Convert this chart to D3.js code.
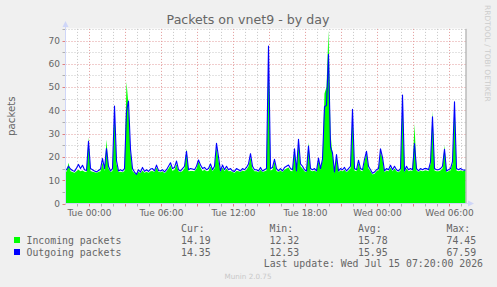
<!DOCTYPE html>
<html>
<head>
<meta charset="utf-8">
<script src="https://cdn.jsdelivr.net/npm/d3@7"></script>
<style>
  html, body { margin: 0; padding: 0; background: #f0f0f0; }
  svg { display: block; }
</style>
</head>
<body>
<div id="chart"></div>
<script>
(function() {

  // samples are 10 minutes apart, starting Mon 22:00 (graph ends Wed 07:20)
  var startTime = new Date(2026, 6, 13, 22, 0);
  var endTime = new Date(2026, 6, 15, 7, 20);
  var stepMinutes = 10;

  var incoming = [
    13.6, 17.5, 13.8, 13.5, 13.2, 13.8, 14.5, 13.8, 14.2, 13.6,
    13.5, 28.5, 14, 13.6, 13.4, 13.2, 13.5, 13.8, 17.5, 14,
    27.5, 15, 13.5, 14, 40, 17, 13.5, 13.6, 13.4, 14,
    52.3, 42, 22, 14, 13, 12.32, 13.6, 13, 14.2, 13.2,
    13.6, 13.2, 13.8, 14, 13.5, 15.5, 13.6, 13.4, 13.8, 13,
    13.8, 15, 16.5, 14, 14.5, 17, 13.8, 13.5, 14, 15,
    23.5, 13.8, 14, 14, 13.8, 15, 18, 15.5, 14, 14.5,
    13.8, 14, 16, 13.8, 15, 24.5, 18.5, 13.5, 15.5, 13.8,
    15, 13.8, 14, 13.5, 13.2, 14, 13.8, 13.5, 14.2, 13.8,
    14.5, 16, 20, 15, 13.8, 13.8, 13.4, 14.5, 13.5, 13.8,
    14.2, 66, 14.2, 14.5, 18, 14, 13.5, 14.2, 13.5, 14.5,
    15, 15.5, 14, 13.8, 22.5, 13.4, 26.5, 16, 15, 13.8,
    13.5, 26.3, 14.2, 13.8, 14.2, 13.5, 18.5, 14.5, 18.5, 47.3,
    50, 74.45, 30, 21, 13, 20, 13.5, 14.2, 13.8, 14.5,
    13.4, 14.2, 15, 39, 14.2, 13.8, 17.5, 14.2, 13.8, 18,
    21.5, 15, 13.8, 12.5, 12.8, 13.8, 14.2, 22.5, 19, 13.4,
    14.2, 13.8, 15.5, 13.8, 15, 13.8, 13.4, 14.2, 45, 13.4,
    15, 13.8, 14.2, 14, 34.3, 14.2, 13.5, 14.2, 13.8, 14.2,
    14.2, 13.8, 17, 39.7, 14.2, 13.8, 13.8, 14.2, 15, 25,
    13.4, 13.8, 14.2, 17, 44.5, 14.2, 13.8, 14.2, 13.8, 14.19
  ];

  var outgoing = [
    14.5, 16, 14.8, 14.2, 13.8, 15.2, 16.8, 15, 16.4, 14.5,
    14.2, 26.7, 15, 14.5, 14, 13.6, 14.2, 14.8, 19.3, 15,
    23.6, 16, 14, 15, 41.9, 18.4, 14, 14.5, 14, 15,
    39.6, 44, 23.3, 15, 13.5, 12.53, 14.5, 13.5, 15.5, 13.8,
    14.5, 13.8, 14.8, 15, 14, 16.5, 14.2, 14, 14.5, 13.6,
    14.5, 16, 17.5, 15, 15.5, 18.2, 14.5, 14, 15, 16,
    22.4, 14.5, 15, 14.8, 14.5, 16, 18.7, 16.5, 15, 15.5,
    14.5, 15, 17, 14.5, 16, 25.9, 20, 14, 16.5, 14.5,
    16, 14.5, 15, 14, 13.8, 15, 14.5, 14, 15, 14.5,
    15.5, 17, 21.4, 16, 14.5, 14.5, 14, 15.5, 14, 14.5,
    15, 67.59, 15, 15.5, 19, 15, 14, 15, 14, 15.5,
    16, 16.5, 15, 14.5, 23.5, 14, 27.6, 17, 16, 14.5,
    14, 24.7, 15, 14.5, 15, 14, 19.5, 15, 19.1, 41.5,
    42.2, 64.1, 24.3, 21.7, 13.5, 21, 14, 15, 14.5, 15.5,
    14, 15, 16, 40.5, 15, 14.5, 18.6, 15, 14.5, 19,
    22.4, 16, 14.5, 13, 13.5, 14.5, 15, 23.5, 19.8, 14,
    15, 14.5, 16.4, 14.5, 16, 14.5, 14, 15, 46.6, 14,
    16, 14.5, 15, 14.5, 25.7, 15, 14, 15, 14.5, 15,
    15, 14.5, 17.8, 37.2, 15, 14.5, 14.5, 15, 16, 23.3,
    14, 14.5, 15, 18, 43.7, 15, 14.5, 15, 14.5, 14.35
  ];

  var yTicks = [0, 10, 20, 30, 40, 50, 60, 70];
  var seriesNames = ['Incoming packets', 'Outgoing packets'];
  var seriesColors = ['#00ff00', '#0000ff'];
  var statHeaders = ['Cur:', 'Min:', 'Avg:', 'Max:'];
  var incomingStats = ['14.19', '12.32', '15.78', '74.45'];
  var outgoingStats = ['14.35', '12.53', '15.95', '67.59'];
  var lastUpdate = 'Last update: Wed Jul 15 07:20:00 2026';

  var W = 497, H = 287;
  var left = 65.5, right = 465.5, top = 28.9, bottom = 203.5;
  var sansFont = '"DejaVu Sans", sans-serif';
  var monoFont = '"DejaVu Sans Mono", monospace';

  var svg, x, y, toPoints, inPts, outPts, grid, h, hourTicks, labelTicks;

  svg = d3.select('#chart').append('svg').attr('width', W).attr('height', H);
  svg.append('rect').attr('width', W).attr('height', H).attr('fill', '#f0f0f0');

  x = d3.scaleTime().domain([startTime, endTime]).range([left, right]);
  y = d3.scaleLinear().domain([0, 75]).range([bottom, top]);

  toPoints = function(values) {
    var pts = values.map(function(v, i) {
      return { t: new Date(+startTime + (i + 0.5) * stepMinutes * 60000), v: v };
    });
    // carry the end values out to the plot edges
    pts.unshift({ t: startTime, v: values[0] });
    pts.push({ t: endTime, v: values[values.length - 1] });
    return pts;
  };
  inPts = toPoints(incoming);
  outPts = toPoints(outgoing);

  // canvas
  svg.append('rect').attr('x', left).attr('y', top - 0.4).attr('width', right - left)
    .attr('height', bottom - top + 0.4).attr('fill', '#ffffff');

  grid = svg.append('g').attr('stroke-dasharray', '1,2').attr('stroke-width', 1);

  // horizontal grid: minor every 5, major every 10
  d3.range(5, 76, 5).forEach(function(v) {
    var major = v % 10 === 0;
    var yy = Math.round(y(v)) + 0.5;
    grid.append('line').attr('x1', left).attr('x2', right).attr('y1', yy).attr('y2', yy)
      .attr('stroke', major ? '#e39a9a' : '#c6c6c6');
  });

  // vertical grid: minor every hour, major every 3 hours
  hourTicks = d3.timeHour.every(1).range(startTime, endTime);
  hourTicks.forEach(function(d) {
    var major = d.getHours() % 3 === 0;
    var xx = Math.round(x(d) - 0.5) + 0.5;
    if (xx <= left + 1) return;
    grid.append('line').attr('x1', xx).attr('x2', xx).attr('y1', top).attr('y2', bottom)
      .attr('stroke', major ? '#e39a9a' : '#c6c6c6');
    svg.append('line').attr('x1', xx).attr('x2', xx).attr('y1', bottom + 0.5).attr('y2', bottom + 3)
      .attr('stroke', major ? '#e08080' : '#b0b0b0');
  });

  yTicks.concat([5, 15, 25, 35, 45, 55, 65, 75]).forEach(function(v) {
    var yy = Math.round(y(v)) + 0.5;
    svg.append('line').attr('x1', left - 3).attr('x2', left).attr('y1', yy).attr('y2', yy)
      .attr('stroke', v % 10 === 0 ? '#e08080' : '#b0b0b0');
  });

  // incoming area, outgoing line
  svg.append('path').datum(inPts)
    .attr('fill', seriesColors[0])
    .attr('d', d3.area().x(function(d) { return x(d.t); }).y0(bottom).y1(function(d) { return y(d.v); }));

  svg.append('path').datum(outPts)
    .attr('fill', 'none')
    .attr('stroke', seriesColors[1])
    .attr('stroke-width', 1.1)
    .attr('stroke-linejoin', 'round')
    .attr('d', d3.line().x(function(d) { return x(d.t); }).y(function(d) { return y(d.v); }));

  // right frame line
  svg.append('line').attr('x1', right + 0.5).attr('x2', right + 0.5).attr('y1', top).attr('y2', bottom)
    .attr('stroke', '#a0a0a0');

  // axes with arrows
  svg.append('line').attr('x1', left).attr('x2', left).attr('y1', bottom).attr('y2', 24)
    .attr('stroke', '#cfd6f8');
  svg.append('path').attr('d', 'M62.5,27L68.5,27L65.5,21Z').attr('fill', '#cfd6f8');
  svg.append('line').attr('x1', left).attr('x2', 470).attr('y1', bottom).attr('y2', bottom)
    .attr('stroke', '#cfd6f8');
  svg.append('path').attr('d', 'M468,200.5L468,206.5L474,203.5Z').attr('fill', '#cfd6f8');

  // tick labels
  svg.append('g').selectAll('text').data(yTicks).enter().append('text')
    .attr('x', 60).attr('y', function(d) { return y(d) + 3.3; })
    .attr('text-anchor', 'end')
    .attr('font-family', sansFont).attr('font-size', 9).attr('fill', '#666666')
    .text(function(d) { return d; });

  labelTicks = d3.timeHour.every(6).range(startTime, endTime);
  svg.append('g').selectAll('text').data(labelTicks).enter().append('text')
    .attr('x', function(d) { return x(d); }).attr('y', 216)
    .attr('text-anchor', 'middle')
    .attr('font-family', sansFont).attr('font-size', 9).attr('fill', '#666666')
    .text(d3.timeFormat('%a %H:%M'));

  // title and side labels
  svg.append('text').attr('x', 248).attr('y', 23.5).attr('text-anchor', 'middle')
    .attr('font-family', sansFont).attr('font-size', 12.6).attr('fill', '#666666')
    .text('Packets on vnet9 - by day');

  svg.append('text').attr('transform', 'translate(15,' + ((top + bottom) / 2) + ') rotate(-90)')
    .attr('text-anchor', 'middle')
    .attr('font-family', sansFont).attr('font-size', 10.2).attr('fill', '#666666')
    .text('packets');

  svg.append('text').attr('transform', 'translate(485,5) rotate(90)')
    .attr('font-family', sansFont).attr('font-size', 7.5).attr('fill', '#cccccc')
    .text('RRDTOOL / TOBI OETIKER');

  // legend
  h = [181, 269.5, 358, 446.5];
  statHeaders.forEach(function(s, i) {
    svg.append('text').attr('x', h[i]).attr('y', 231.5)
      .attr('font-family', monoFont).attr('font-size', 9.85).attr('fill', '#666666').text(s);
  });
  [incomingStats, outgoingStats].forEach(function(row, r) {
    var yy = 243.5 + r * 12;
    svg.append('rect').attr('x', 14).attr('y', yy - 6.5).attr('width', 6).attr('height', 6)
      .attr('fill', seriesColors[r]);
    svg.append('text').attr('x', 26.5).attr('y', yy)
      .attr('font-family', monoFont).attr('font-size', 9.85).attr('fill', '#666666')
      .text(seriesNames[r]);
    row.forEach(function(v, i) {
      svg.append('text').attr('x', h[i]).attr('y', yy)
        .attr('font-family', monoFont).attr('font-size', 9.85).attr('fill', '#666666').text(v);
    });
  });

  svg.append('text').attr('x', 483).attr('y', 267).attr('text-anchor', 'end')
    .attr('font-family', monoFont).attr('font-size', 9.85).attr('fill', '#666666')
    .text(lastUpdate);

  svg.append('text').attr('x', 248).attr('y', 279).attr('text-anchor', 'middle')
    .attr('font-family', sansFont).attr('font-size', 7.2).attr('fill', '#c8c8c8')
    .text('Munin 2.0.75');

}).call(this);
</script>
</body>
</html>
